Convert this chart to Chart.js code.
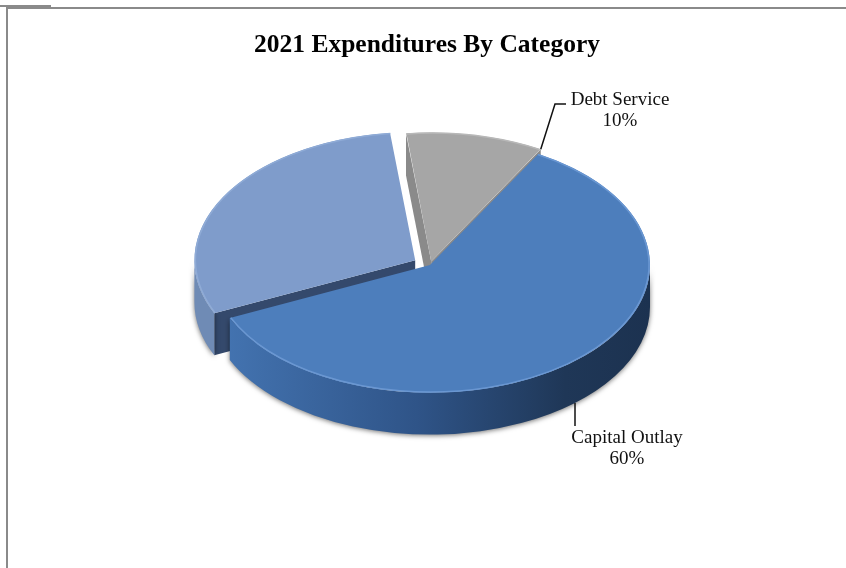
<!DOCTYPE html>
<html>
<head>
<meta charset="utf-8">
<script src="https://cdn.jsdelivr.net/npm/chart.js@4"></script>
<style>
  html, body { margin: 0; padding: 0; background: #fff; overflow: hidden; }
  canvas { display: block; }
</style>
</head>
<body>
<canvas id="myChart" width="846" height="568"></canvas>
<script>
// Slices, clockwise from the start angle
var categories = ["Capital Outlay", "Other", "Debt Service"];
var shares = [60, 30, 10];
var topColors = ["#4d7ebc", "#7f9ccb", "#a6a6a6"];
var rimColors = ["#6a97d2", "#8fabd6", "#b8b8b8"];
var wallColors = ["#2c4e7c", "#6f8bb5", "#8f8f8f"];
var faceColors = ["#3f6ca6", "#34496c", "#8a8a8a"];
var sliceOffsets = [0, 68, 24];

var SERIF = '"Liberation Serif", serif';
var PIE_X = 430, PIE_Y = 265;   // where the capital slice apex lands
var TILT = 0.58;                // vertical squash of the disc
var DEPTH = 42;                 // wall height

// geometry of an arc as Chart.js draws it, including the offset shift
function arcShape(el) {
  var off = (el.options.offset || 0) / 4;
  var mid = (el.startAngle + el.endAngle) / 2;
  var fix = 1 - Math.sin(Math.min(Math.PI, el.circumference));
  return {
    x: PIE_X + Math.cos(mid) * off,
    y: PIE_Y + Math.sin(mid) * off * TILT,
    r: el.outerRadius + off * fix,
    start: el.startAngle,
    end: el.endAngle
  };
}

function rimPoint(s, angle) {
  return { x: s.x + Math.cos(angle) * s.r, y: s.y + Math.sin(angle) * s.r * TILT };
}

function radialFace(ctx, s, angle, color) {
  var p = rimPoint(s, angle);
  ctx.fillStyle = color;
  ctx.beginPath();
  ctx.moveTo(s.x, s.y);
  ctx.lineTo(p.x, p.y);
  ctx.lineTo(p.x, p.y + DEPTH);
  ctx.lineTo(s.x, s.y + DEPTH);
  ctx.closePath();
  ctx.fill();
}

function outerWall(ctx, s, fill) {
  // only the front half of the rim faces the viewer
  var a = Math.max(s.start, 0);
  var b = Math.min(s.end, Math.PI);
  if (b <= a) return;
  ctx.save();
  ctx.shadowColor = "rgba(0,0,0,0.55)";
  ctx.shadowBlur = 5;
  ctx.shadowOffsetY = 1;
  ctx.fillStyle = fill;
  ctx.beginPath();
  ctx.ellipse(s.x, s.y, s.r, s.r * TILT, 0, a, b);
  ctx.ellipse(s.x, s.y + DEPTH, s.r, s.r * TILT, 0, b, a, true);
  ctx.closePath();
  ctx.fill();
  ctx.restore();
}

function capitalWallFill(ctx) {
  var g = ctx.createLinearGradient(226, 0, 650, 0);
  g.addColorStop(0, "#4373b0");
  g.addColorStop(0.45, "#2f5488");
  g.addColorStop(0.8, "#1f3757");
  g.addColorStop(1, "#1c3250");
  return g;
}

function drawLabel(ctx, lines, x, y) {
  ctx.font = "19px " + SERIF;
  ctx.fillStyle = "#111";
  ctx.textAlign = "center";
  ctx.textBaseline = "middle";
  lines.forEach(function (t, i) { ctx.fillText(t, x, y + i * 21); });
}

var pie3d = {
  id: "pie3d",
  beforeDraw: function (chart) {
    // page frame
    var ctx = chart.ctx;
    ctx.save();
    ctx.fillStyle = "#8a8a8a";
    ctx.fillRect(0, 5, 51, 2);
    ctx.fillRect(6, 7, 840, 2);
    ctx.fillRect(6, 7, 2, 561);
    ctx.restore();
  },
  beforeDatasetsDraw: function (chart) {
    var ctx = chart.ctx;
    var arcs = chart.getDatasetMeta(0).data;
    // back slices first so the capital slice covers them
    [2, 1, 0].forEach(function (i) {
      var s = arcShape(arcs[i]);
      if (Math.cos(s.start) < 0) radialFace(ctx, s, s.start, faceColors[i]);
      if (Math.cos(s.end) > 0) radialFace(ctx, s, s.end, faceColors[i]);
      outerWall(ctx, s, i === 0 ? capitalWallFill(ctx) : wallColors[i]);
    });
    // tops are flattened onto the disc plane
    ctx.save();
    ctx.translate(PIE_X, PIE_Y);
    ctx.scale(1, TILT);
    ctx.translate(-arcs[0].x, -arcs[0].y);
  },
  afterDatasetsDraw: function (chart) {
    var ctx = chart.ctx;
    ctx.restore();
    var arcs = chart.getDatasetMeta(0).data;

    // light bevel along the rim
    arcs.forEach(function (el, i) {
      var s = arcShape(el);
      ctx.strokeStyle = rimColors[i];
      ctx.lineWidth = 1.5;
      ctx.beginPath();
      ctx.ellipse(s.x, s.y, s.r - 1, (s.r - 1) * TILT, 0, s.start, s.end);
      ctx.stroke();
    });

    // leader lines
    ctx.strokeStyle = "#111";
    ctx.lineWidth = 1.5;
    var debt = rimPoint(arcShape(arcs[2]), arcs[2].endAngle);
    ctx.beginPath();
    ctx.moveTo(debt.x, debt.y);
    ctx.lineTo(555, 104);
    ctx.lineTo(566, 104);
    ctx.stroke();

    var cap = arcShape(arcs[0]);
    var capX = 575;
    var capA = Math.acos((capX - cap.x) / cap.r);
    var capY = rimPoint(cap, capA).y + DEPTH;
    ctx.beginPath();
    ctx.moveTo(capX, capY);
    ctx.lineTo(capX, 426);
    ctx.stroke();

    drawLabel(ctx, [categories[2], shares[2] + "%"], 620, 100);
    drawLabel(ctx, [categories[0], shares[0] + "%"], 627, 438);
  }
};

var ctx = document.getElementById("myChart");
var myChart = new Chart(ctx, {
  type: "pie",
  data: {
    labels: categories,
    datasets: [{
      data: shares,
      backgroundColor: topColors,
      borderWidth: 0,
      offset: sliceOffsets,
      clip: false
    }]
  },
  options: {
    responsive: false,
    animation: false,
    rotation: 29.5,
    radius: 220,
    layout: { padding: { left: 8 } },
    plugins: {
      legend: { display: false },
      tooltip: { enabled: false },
      title: {
        display: true,
        fullSize: false,
        text: "2021 Expenditures By Category",
        color: "#000",
        font: { family: SERIF, size: 25.5, weight: "bold" },
        padding: { top: 30, bottom: 10 }
      }
    }
  },
  plugins: [pie3d]
});
</script>
</body>
</html>
